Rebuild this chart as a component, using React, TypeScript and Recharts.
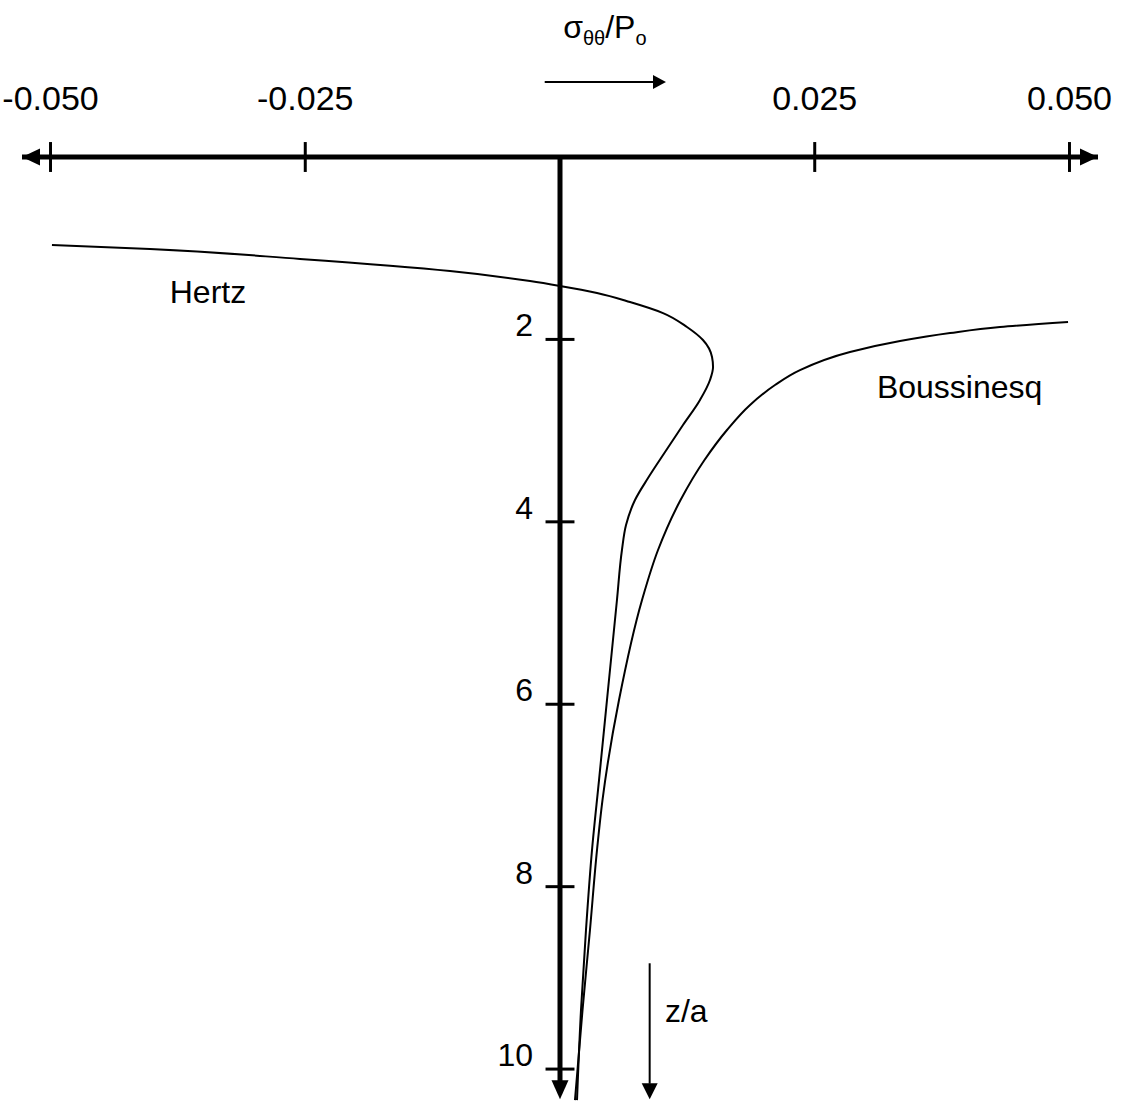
import React from 'react';
import { LineChart, Line, XAxis, YAxis, ReferenceLine, ReferenceDot } from 'recharts';

// sigma_thetatheta / Po along the axis
const hertzSigma = [
  -0.04986, -0.04024, -0.02552, -0.0108, -0.00294, 0, 0.00363, 0.00687, 0.01011, 0.01246, 0.01403,
  0.01492, 0.01502, 0.01472, 0.01374, 0.01207, 0.01031, 0.00864, 0.00736, 0.00648, 0.00608, 0.00559,
  0.00461, 0.00383, 0.00314, 0.00255, 0.00206, 0.00167,
];
const hertzDepth = [
  0.965, 1.009, 1.118, 1.25, 1.36, 1.414, 1.491, 1.59, 1.711, 1.864, 2.007,
  2.193, 2.303, 2.445, 2.664, 2.939, 3.235, 3.52, 3.761, 4.035, 4.309, 4.857,
  5.954, 6.831, 7.599, 8.476, 9.353, 10.34,
];
const boussSigma = [
  0.04986, 0.04318, 0.03828, 0.03337, 0.02846, 0.02355, 0.0211, 0.01865, 0.01639, 0.01418,
  0.01183, 0.00962, 0.00805, 0.00579, 0.00417, 0.00363, 0.00294, 0.00221, 0.00147,
];
const boussDepth = [
  1.809, 1.864, 1.93, 2.018, 2.138, 2.336, 2.5, 2.719, 2.993, 3.322,
  3.761, 4.309, 4.857, 5.954, 7.05, 7.599, 8.476, 9.353, 10.34,
];
const sigmaTicks = [-0.05, -0.025, 0.025, 0.05];
const depthTicks = [2, 4, 6, 8, 10];

const FONT = '"Liberation Sans", Arial, sans-serif';
const X_END = 0.0528;
const Z_END = 10.35;

const toRows = (s: number[], z: number[]) => s.map((v, i) => ({ s: v, z: z[i] }));
const hertz = toRows(hertzSigma, hertzDepth);
const bouss = toRows(boussSigma, boussDepth);

// arrow heads, tip at the dot position
const head = (dir: 'left' | 'right' | 'down', len: number, half: number) => (p: any) => {
  const { cx, cy } = p;
  let pts = '';
  if (dir === 'left') pts = `${cx},${cy} ${cx + len},${cy - half} ${cx + len},${cy + half}`;
  if (dir === 'right') pts = `${cx},${cy} ${cx - len},${cy - half} ${cx - len},${cy + half}`;
  if (dir === 'down') pts = `${cx},${cy} ${cx - half},${cy - len} ${cx + half},${cy - len}`;
  return <polygon points={pts} fill="#000" />;
};

const textAt = (txt: string, anchor: string, dx: number, dy: number, size = 32) => (p: any) => (
  <text x={p.cx + dx} y={p.cy + dy} textAnchor={anchor} fontSize={size} fontFamily={FONT} fill="#000">
    {txt}
  </text>
);

const title = (p: any) => (
  <text x={p.cx} y={p.cy} textAnchor="middle" fontFamily={FONT} fill="#000" fontSize={32}>
    σ<tspan fontSize={20} dy={7}>θθ</tspan>
    <tspan dy={-7}>/P</tspan>
    <tspan fontSize={20} dy={7}>o</tspan>
  </text>
);

export default function App() {
  return (
    <div style={{ position: 'absolute', left: 0, top: 0, width: 1133, height: 1101, background: '#fff' }}>
      <LineChart width={1133} height={1101} margin={{ top: 0, right: 35, bottom: 0, left: 22 }}>
        <XAxis
          dataKey="s"
          type="number"
          orientation="top"
          height={157}
          domain={[-X_END, X_END]}
          allowDataOverflow
          ticks={sigmaTicks}
          interval={0}
          tickFormatter={(v: number) => v.toFixed(3)}
          tickLine={false}
          tickSize={10}
          tickMargin={37}
          axisLine={{ stroke: '#000', strokeWidth: 5 }}
          tick={{ fontSize: 34, fill: '#000', fontFamily: FONT }}
        />
        <YAxis type="number" dataKey="z" domain={[0, Z_END]} reversed hide width={0} allowDataOverflow />

        {/* vertical axis */}
        <ReferenceLine segment={[{ x: 0, y: 0 }, { x: 0, y: 10.15 }]} stroke="#000" strokeWidth={5} />
        <ReferenceDot x={0} y={10.33} ifOverflow="visible" shape={head('down', 19, 8.5)} />
        <ReferenceDot x={-X_END} y={0} ifOverflow="visible" shape={head('left', 18, 8.5)} />
        <ReferenceDot x={X_END} y={0} ifOverflow="visible" shape={head('right', 18, 8.5)} />

        {sigmaTicks.map((t) => (
          <ReferenceLine
            key={`xt${t}`}
            segment={[{ x: t, y: -0.164 }, { x: t, y: 0.164 }]}
            ifOverflow="visible"
            stroke="#000"
            strokeWidth={3}
          />
        ))}
        {depthTicks.map((t) => (
          <ReferenceLine
            key={`zt${t}`}
            segment={[{ x: -0.00142, y: t }, { x: 0.00142, y: t }]}
            stroke="#000"
            strokeWidth={3}
          />
        ))}
        {depthTicks.map((t) => (
          <ReferenceDot key={`zl${t}`} x={0} y={t} ifOverflow="visible" shape={textAt(String(t), 'end', -27, -3)} />
        ))}

        <Line data={hertz} dataKey="z" type="monotoneY" stroke="#000" strokeWidth={2} dot={false} isAnimationActive={false} />
        <Line data={bouss} dataKey="z" type="monotoneY" stroke="#000" strokeWidth={2} dot={false} isAnimationActive={false} />

        <ReferenceDot x={-0.0383} y={1.6} ifOverflow="visible" shape={textAt('Hertz', 'start', 0, 0)} />
        <ReferenceDot x={0.0311} y={2.64} ifOverflow="visible" shape={textAt('Boussinesq', 'start', 0, 0)} />

        {/* sigma direction arrow and title */}
        <ReferenceDot x={0.0044} y={-1.31} ifOverflow="visible" shape={title} />
        <ReferenceLine segment={[{ x: -0.0015, y: -0.822 }, { x: 0.0095, y: -0.822 }]} ifOverflow="visible" stroke="#000" strokeWidth={2} />
        <ReferenceDot x={0.0104} y={-0.822} ifOverflow="visible" shape={head('right', 13, 7)} />

        {/* depth direction arrow */}
        <ReferenceLine segment={[{ x: 0.0088, y: 8.84 }, { x: 0.0088, y: 10.16 }]} stroke="#000" strokeWidth={2} />
        <ReferenceDot x={0.0088} y={10.33} ifOverflow="visible" shape={head('down', 16, 8)} />
        <ReferenceDot x={0.0103} y={9.48} ifOverflow="visible" shape={textAt('z/a', 'start', 0, 0)} />
      </LineChart>
    </div>
  );
}
